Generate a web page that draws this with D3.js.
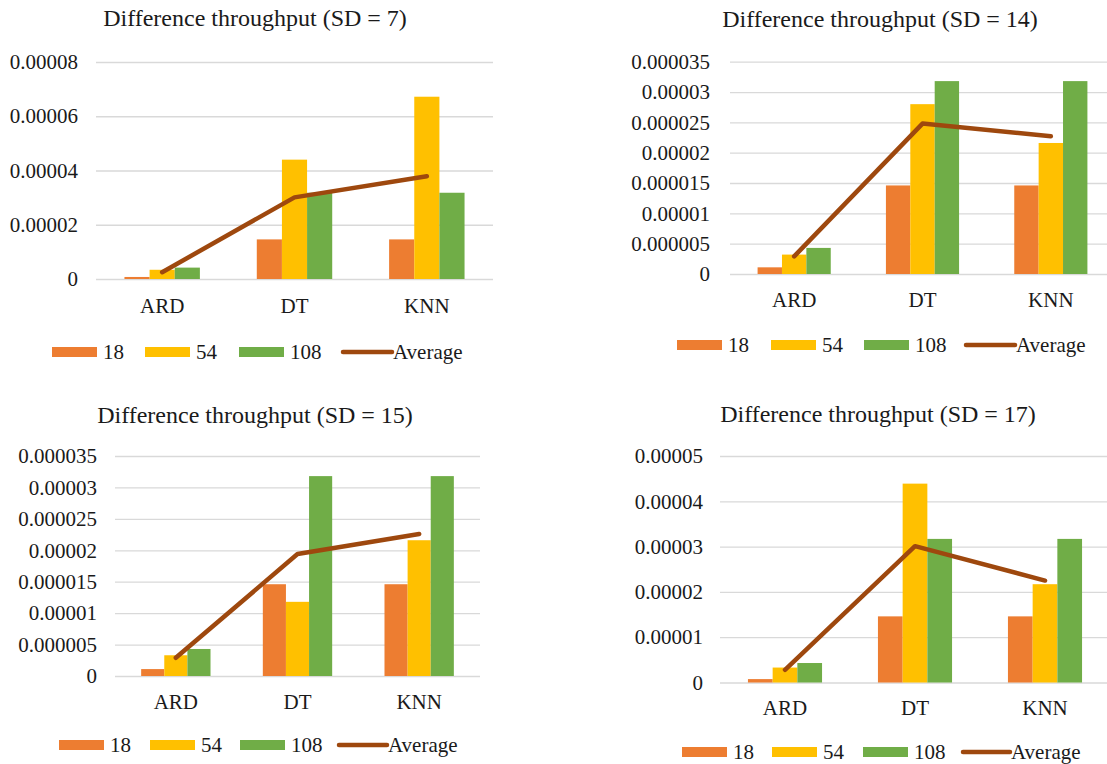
<!DOCTYPE html>
<html>
<head>
<meta charset="utf-8">
<script src="https://cdn.jsdelivr.net/npm/d3@7"></script>
<style>
  html, body { margin: 0; padding: 0; background: #fff; }
  svg { display: block; }
</style>
</head>
<body>
<svg id="chart" width="1107" height="764" style="font-family:'Liberation Serif'"></svg>
<script>
// ---------- DATA ----------
const categories = ["ARD", "DT", "KNN"];
const seriesNames = ["18", "54", "108"];
const averageName = "Average";
const titles = [
  "Difference throughput (SD = 7)",
  "Difference throughput (SD = 14)",
  "Difference throughput (SD = 15)",
  "Difference throughput (SD = 17)"
];

// values per series: [ARD, DT, KNN]
const sd7_18  = [0.00000075, 0.0000146, 0.0000146];
const sd7_54  = [0.0000034,  0.0000440, 0.0000672];
const sd7_108 = [0.0000042,  0.0000318, 0.0000318];
const sd7_avg = [0.0000025,  0.0000301, 0.0000379];

const sd14_18  = [0.0000011, 0.0000146, 0.0000146];
const sd14_54  = [0.0000032, 0.0000280, 0.0000216];
const sd14_108 = [0.0000043, 0.0000318, 0.0000318];
const sd14_avg = [0.0000029, 0.0000248, 0.0000227];

const sd15_18  = [0.0000011, 0.0000146, 0.0000146];
const sd15_54  = [0.0000033, 0.0000118, 0.0000216];
const sd15_108 = [0.0000043, 0.0000318, 0.0000318];
const sd15_avg = [0.0000029, 0.0000194, 0.0000226];

const sd17_18  = [0.00000075, 0.0000146, 0.0000146];
const sd17_54  = [0.0000033,  0.0000439, 0.0000217];
const sd17_108 = [0.0000043,  0.0000317, 0.0000317];
const sd17_avg = [0.0000028,  0.0000301, 0.0000225];

// y tick values (and their labels)
const sd7_ticks  = [0, 0.00002, 0.00004, 0.00006, 0.00008];
const sd7_tickLabels  = ["0", "0.00002", "0.00004", "0.00006", "0.00008"];
const sd14_ticks = [0, 0.000005, 0.00001, 0.000015, 0.00002, 0.000025, 0.00003, 0.000035];
const sd14_tickLabels = ["0", "0.000005", "0.00001", "0.000015", "0.00002", "0.000025", "0.00003", "0.000035"];
const sd15_ticks = sd14_ticks;
const sd15_tickLabels = sd14_tickLabels;
const sd17_ticks = [0, 0.00001, 0.00002, 0.00003, 0.00004, 0.00005];
const sd17_tickLabels = ["0", "0.00001", "0.00002", "0.00003", "0.00004", "0.00005"];

// ---------- STYLE / LAYOUT ----------
const FONT = "Liberation Serif";
const TEXT_COLOR = "#1a1a1a";
const barColors = ["#ED7D31", "#FFC000", "#70AD47"];
const lineColor = "#9E480E";

const layouts = [
  { titleX: 255, titleY: 18, x0: 96,  x1: 493,  yTop: 62,  yBot: 279,   labelX: 78,  catY: 306, legY: 352,
    sw: [52, 145, 239], ln: [343, 392] },
  { titleX: 880, titleY: 19, x0: 730, x1: 1115, yTop: 61.7, yBot: 274,  labelX: 710, catY: 300, legY: 345,
    sw: [677, 771, 864], ln: [966, 1015] },
  { titleX: 255, titleY: 415, x0: 115, x1: 480, yTop: 456, yBot: 676,   labelX: 97,  catY: 702, legY: 745,
    sw: [59, 150, 240], ln: [339, 387] },
  { titleX: 878, titleY: 414, x0: 720, x1: 1110, yTop: 456, yBot: 682.5, labelX: 703, catY: 708, legY: 752,
    sw: [682, 772, 863], ln: [963, 1010] }
];

const panelSeries = [
  [sd7_18, sd7_54, sd7_108],
  [sd14_18, sd14_54, sd14_108],
  [sd15_18, sd15_54, sd15_108],
  [sd17_18, sd17_54, sd17_108]
];
const panelAvg = [sd7_avg, sd14_avg, sd15_avg, sd17_avg];
const panelTicks = [sd7_ticks, sd14_ticks, sd15_ticks, sd17_ticks];
const panelTickLabels = [sd7_tickLabels, sd14_tickLabels, sd15_tickLabels, sd17_tickLabels];

const svg = d3.select("#chart");

function styleText(sel, size) {
  sel.attr("font-family", FONT).style("font-family", FONT)
     .attr("font-size", size).style("font-size", size + "px")
     .attr("fill", TEXT_COLOR);
}

layouts.forEach((L, p) => {
  const g = svg.append("g");
  const ticks = panelTicks[p];
  const labels = panelTickLabels[p];
  const y = d3.scaleLinear().domain([0, ticks[ticks.length - 1]]).range([L.yBot, L.yTop]);
  const x = d3.scaleBand().domain(categories).range([L.x0, L.x1]).paddingInner(0).paddingOuter(0);
  const bw = x.bandwidth();
  const xs = d3.scaleBand().domain(seriesNames).range([bw * 0.215, bw * 0.785]).padding(0);

  // title
  g.append("text").attr("x", L.titleX).attr("y", L.titleY).attr("dy", "0.35em")
    .attr("text-anchor", "middle").text(titles[p]).call(styleText, 24);

  // gridlines + y labels
  const yAxis = d3.axisLeft(y).tickValues(ticks).tickSize(-(L.x1 - L.x0))
    .tickFormat((d, i) => labels[i]).tickPadding(L.x0 - L.labelX);
  const ga = g.append("g").attr("transform", `translate(${L.x0},0)`).call(yAxis);
  ga.attr("font-family", FONT);
  ga.select(".domain").remove();
  ga.selectAll(".tick line").attr("stroke", "#d9d9d9").attr("stroke-width", 1.3);
  ga.selectAll(".tick text").call(styleText, 21);

  // bars
  const series = panelSeries[p];
  series.forEach((vals, s) => {
    g.selectAll(null).data(vals).enter().append("rect")
      .attr("x", (d, i) => x(categories[i]) + xs(seriesNames[s]))
      .attr("width", xs.bandwidth())
      .attr("y", d => y(d))
      .attr("height", d => y(0) - y(d))
      .attr("fill", barColors[s]);
  });

  // average line
  const line = d3.line().x((d, i) => x(categories[i]) + bw / 2).y(d => y(d));
  g.append("path").datum(panelAvg[p]).attr("d", line)
    .attr("fill", "none").attr("stroke", lineColor).attr("stroke-width", 4.5)
    .attr("stroke-linecap", "round").attr("stroke-linejoin", "round");

  // category labels
  const xAxis = d3.axisBottom(x).tickSize(0).tickPadding(0);
  const gx = g.append("g").attr("transform", `translate(0,${L.catY})`).call(xAxis);
  gx.attr("font-family", FONT);
  gx.select(".domain").remove();
  gx.selectAll(".tick text").attr("dy", "0.35em").attr("y", 0).call(styleText, 21);

  // legend
  const lg = g.append("g");
  seriesNames.forEach((name, s) => {
    lg.append("rect").attr("x", L.sw[s]).attr("y", L.legY - 5).attr("width", 45).attr("height", 10).attr("fill", barColors[s]);
    lg.append("text").attr("x", L.sw[s] + 51).attr("y", L.legY).attr("dy", "0.35em").text(name).call(styleText, 21);
  });
  lg.append("line").attr("x1", L.ln[0]).attr("x2", L.ln[1]).attr("y1", L.legY).attr("y2", L.legY)
    .attr("stroke", lineColor).attr("stroke-width", 4.5).attr("stroke-linecap", "round");
  lg.append("text").attr("x", L.ln[1] + 1).attr("y", L.legY).attr("dy", "0.35em").text(averageName).call(styleText, 21);
});
</script>
</body>
</html>
